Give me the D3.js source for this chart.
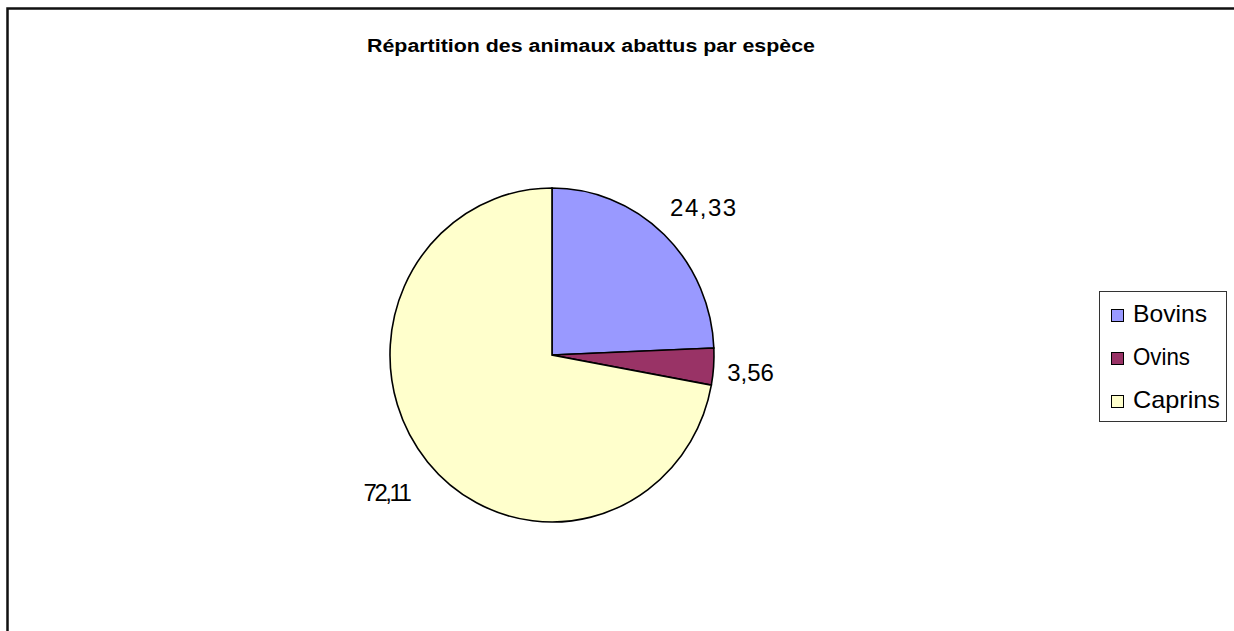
<!DOCTYPE html>
<html>
<head>
<meta charset="utf-8">
<script src="https://cdn.jsdelivr.net/npm/d3@7"></script>
<style>
html, body { margin: 0; padding: 0; background: #fff; overflow: hidden; }
svg { display: block; }
text { font-family: "Liberation Sans", Arial, sans-serif; fill: #000; }
</style>
</head>
<body>
<div class="chart"></div>
<script>
const title = 'Répartition des animaux abattus  par espèce'
const categories = ['Bovins', 'Ovins', 'Caprins']
const values = [24.33, 3.56, 72.11]
const colors = ['#9999ff', '#993366', '#ffffcc']

const width = 1234, height = 631

const svg = d3.select('.chart')
.append('svg')
.attr('width', width)
.attr('height', height)

// chart frame: only its top and left edges fall inside the picture
svg.append('path')
.attr('d', `M7.5,${height + 5}V8.5H${width + 5}`)
.attr('fill', 'none')
.attr('stroke', '#111')
.attr('stroke-width', 2.5)

svg.append('text')
.attr('x', 591).attr('y', 52)
.attr('text-anchor', 'middle')
.attr('font-size', 18)
.attr('font-weight', 'bold')
.attr('textLength', 448)
.attr('lengthAdjust', 'spacingAndGlyphs')
.text(title)

const color = d3.scaleOrdinal().domain(categories).range(colors)

const data = categories.map((c, i) => ({ name: c, value: values[i] }))

const pie = d3.pie().sort(null).value(d => d.value)
const arcs = pie(data)

const rx = 162, ry = 167
const cx = 552, cy = 355

const arc = d3.arc().innerRadius(0).outerRadius(rx)
const labelArc = d3.arc().innerRadius(205).outerRadius(205)

let g = svg.append('g')
.attr('transform', `translate(${cx},${cy}) scale(1,${ry / rx})`)

g.selectAll('path')
.data(arcs)
.enter()
.append('path')
.attr('d', arc)
.attr('fill', d => color(d.data.name))
.attr('stroke', '#000')
.attr('stroke-width', 1.6)
.attr('vector-effect', 'non-scaling-stroke')

const fr = d3.formatLocale({ decimal: ',', thousands: ' ', grouping: [3], currency: ['', ' €'] })
const fmt = fr.format('.2f')

// small nudges so the labels sit where Excel put them
const nudge = { Bovins: [10, 5], Ovins: [-6, 3], Caprins: [-8, 2] }
const labelSpacing = { Bovins: 1.5, Ovins: 0, Caprins: -2.5 }

svg.append('g')
.selectAll('text')
.data(arcs)
.enter()
.append('text')
.attr('x', d => cx + labelArc.centroid(d)[0] + nudge[d.data.name][0])
.attr('y', d => cy + labelArc.centroid(d)[1] * ry / rx + nudge[d.data.name][1])
.attr('dy', '0.35em')
.attr('text-anchor', 'middle')
.attr('font-size', 24)
.attr('letter-spacing', d => labelSpacing[d.data.name])
.text(d => fmt(d.data.value))

// legend
let legend = svg.append('g')

legend.append('rect')
.attr('x', 1099.5).attr('y', 291.5)
.attr('width', 127).attr('height', 130)
.attr('fill', '#fff')
.attr('stroke', '#333')
.attr('stroke-width', 1)

let ly = d3.scalePoint().domain(categories).range([309, 395])
const legendWidth = { Bovins: 74, Ovins: 57, Caprins: 87 }

let item = legend.selectAll('.item')
.data(categories)
.enter()
.append('g')
.attr('class', 'item')

item.append('rect')
.attr('x', 1111.5)
.attr('y', d => ly(d) + 0.5)
.attr('width', 12).attr('height', 12)
.attr('fill', d => color(d))
.attr('stroke', '#000')
.attr('stroke-width', 1)

item.append('text')
.attr('x', 1133)
.attr('y', d => ly(d) + 13)
.attr('font-size', 24)
.attr('textLength', d => legendWidth[d])
.attr('lengthAdjust', 'spacingAndGlyphs')
.text(d => d)
</script>
</body>
</html>
